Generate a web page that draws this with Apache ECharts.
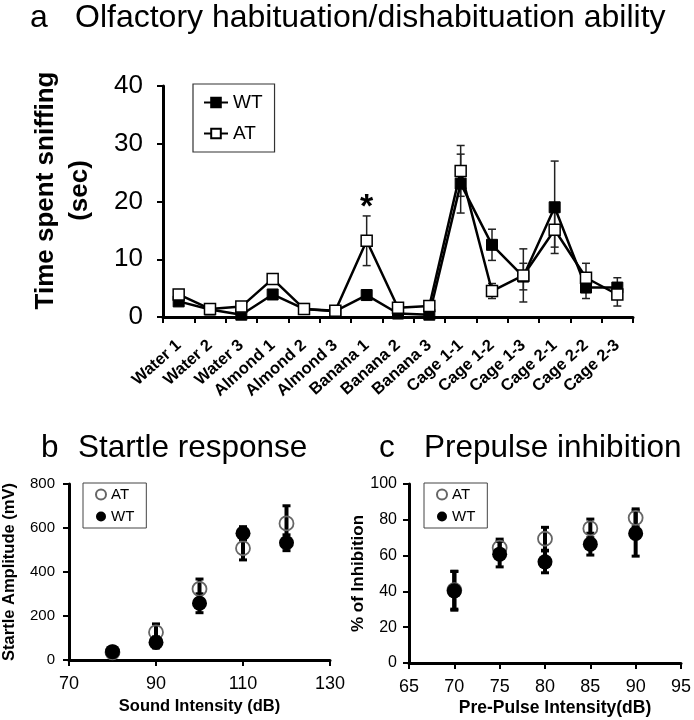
<!DOCTYPE html>
<html><head><meta charset="utf-8">
<script src="https://cdn.jsdelivr.net/npm/echarts@6/dist/echarts.min.js"></script>
<style>html,body{margin:0;padding:0;background:#fff}#c{width:694px;height:720px}</style>
</head><body><div id="c"></div>
<script>
// ---- Panel a data ----
const categories = ['Water 1','Water 2','Water 3','Almond 1','Almond 2','Almond 3','Banana 1','Banana 2','Banana 3','Cage 1-1','Cage 1-2','Cage 1-3','Cage 2-1','Cage 2-2','Cage 2-3'];
const sniffTicks = [0, 10, 20, 30, 40];
const wtSniff    = [2.7, 1.3, 0.4, 3.9, 1.4, 1.0, 3.8, 0.6, 0.4, 23.1, 12.5, 7.0, 19.0, 5.1, 5.1];
const wtSniffErr = [0.5, 0.3, 0.2, 0.6, 0.3, 0.2, 0.9, 0.3, 0.2, 5.1, 2.7, 2.3, 8.0, 1.9, 1.7];
const atSniff    = [3.9, 1.4, 1.8, 6.6, 1.4, 1.1, 13.2, 1.6, 1.9, 25.3, 4.5, 7.2, 15.1, 6.8, 3.9];
const atSniffErr = [0.5, 0.4, 0.4, 0.6, 0.3, 0.3, 4.3, 0.4, 0.4, 4.4, 1.3, 4.6, 3.0, 2.5, 2.0];
const sigMarks = [['Banana 1', 18.9]];

// ---- Panel b data ----
const soundIntensity = [80, 90, 100, 110, 120];
const atStartle    = [35, 126, 323, 508, 621];
const atStartleErr = [10, 38, 45, 53, 80];
const wtStartle    = [38, 80, 258, 576, 533];
const wtStartleErr = [12, 25, 43, 30, 36];

// ---- Panel c data ----
const prepulseIntensity = [70, 75, 80, 85, 90];
const atPPI    = [40.7, 64.4, 69.4, 75.2, 81.1];
const atPPIErr = [10.6, 4.8, 6.4, 5.2, 5.0];
const wtPPI    = [40.3, 60.8, 56.5, 66.4, 72.4];
const wtPPIErr = [10.8, 7.1, 6.1, 6.1, 12.7];

const FONT = 'Liberation Sans, Arial, sans-serif';

function errRender(lineW, capW, capLW, color) {
  return function (params, api) {
    const x = api.value(0), y = api.value(1), e = api.value(2);
    const top = api.coord([x, y + e]);
    const bot = api.coord([x, y - e]);
    const hw = capW / 2;
    const st = {stroke: color, lineWidth: lineW};
    const cs = {stroke: color, lineWidth: capLW};
    return {type: 'group', children: [
      {type: 'line', shape: {x1: top[0], y1: top[1], x2: bot[0], y2: bot[1]}, style: st},
      {type: 'line', shape: {x1: top[0] - hw, y1: top[1], x2: top[0] + hw, y2: top[1]}, style: cs},
      {type: 'line', shape: {x1: bot[0] - hw, y1: bot[1], x2: bot[0] + hw, y2: bot[1]}, style: cs}
    ]};
  };
}
const zip3 = (xs, ys, es) => xs.map((x, i) => [x, ys[i], es[i]]);
const zip2 = (xs, ys) => xs.map((x, i) => [x, ys[i]]);

const axisLineStyle = {lineStyle: {color: '#000', width: 3}};
const tickStyle = {show: true, inside: false, length: 6, lineStyle: {color: '#000', width: 2}};
const titleStyleA = {fontSize: 32, fontWeight: 'normal', color: '#000', fontFamily: FONT};
const titleStyle = {fontSize: 31.5, fontWeight: 'normal', color: '#000', fontFamily: FONT};

const option = {
  animation: false,
  textStyle: {fontFamily: FONT, color: '#000'},
  title: [
    {text: 'a', left: 30, top: 2, padding: 0, textStyle: titleStyleA},
    {text: 'Olfactory habituation/dishabituation ability', left: 75, top: 2, padding: 0, textStyle: titleStyleA},
    {text: 'b', left: 41, top: 432, padding: 0, textStyle: titleStyle},
    {text: 'Startle response', left: 78, top: 432, padding: 0, textStyle: titleStyle},
    {text: 'c', left: 379, top: 432, padding: 0, textStyle: titleStyle},
    {text: 'Prepulse inhibition', left: 424, top: 432, padding: 0, textStyle: titleStyle}
  ],
  legend: [
    {left: 193, top: 84, orient: 'vertical', data: ['WT', 'AT'], selectedMode: false,
     itemWidth: 24, itemHeight: 12, itemGap: 12, padding: [9, 12, 9, 10],
     borderColor: '#333', borderWidth: 1.2, textStyle: {fontSize: 19, color: '#000', fontFamily: FONT}},
    {left: 83, top: 483, orient: 'vertical', data: ['AT_b', 'WT_b'], selectedMode: false,
     formatter: n => n.split('_')[0], itemWidth: 10, itemHeight: 10, itemGap: 7, padding: [4, 12, 4, 12],
     borderColor: '#444', borderWidth: 1, textStyle: {fontSize: 15, color: '#000', fontFamily: FONT}},
    {left: 424, top: 483, orient: 'vertical', data: ['AT_c', 'WT_c'], selectedMode: false,
     formatter: n => n.split('_')[0], itemWidth: 10, itemHeight: 10, itemGap: 7, padding: [4, 12, 4, 12],
     borderColor: '#444', borderWidth: 1, textStyle: {fontSize: 15, color: '#000', fontFamily: FONT}}
  ],
  grid: [
    {left: 163, top: 86, width: 470, height: 231},
    {left: 68, top: 484, width: 262, height: 176},
    {left: 409, top: 484, width: 275, height: 179}
  ],
  xAxis: [
    {gridIndex: 0, type: 'category', data: categories, boundaryGap: true,
     axisLine: axisLineStyle, axisTick: Object.assign({}, tickStyle, {alignWithLabel: false}),
     axisLabel: {rotate: 42, interval: 0, margin: 26, fontSize: 16.5, fontWeight: 'bold', color: '#000', fontFamily: FONT},
     splitLine: {show: false}},
    {gridIndex: 1, type: 'value', min: 70, max: 130, interval: 20,
     axisLine: axisLineStyle, axisTick: tickStyle,
     axisLabel: {margin: 15, fontSize: 18, color: '#000', fontFamily: FONT}, splitLine: {show: false},
     name: 'Sound Intensity (dB)', nameLocation: 'middle', nameGap: 38,
     nameTextStyle: {fontSize: 16.5, fontWeight: 'bold', color: '#000', fontFamily: FONT}},
    {gridIndex: 2, type: 'value', min: 65, max: 95, interval: 5,
     axisLine: axisLineStyle, axisTick: tickStyle,
     axisLabel: {margin: 15, fontSize: 18, color: '#000', fontFamily: FONT}, splitLine: {show: false},
     name: 'Pre-Pulse Intensity(dB)', nameLocation: 'middle', nameGap: 36,
     nameTextStyle: {fontSize: 17.5, fontWeight: 'bold', color: '#000', fontFamily: FONT, padding: [0, 0, 0, 20]}}
  ],
  yAxis: [
    {gridIndex: 0, type: 'value', min: sniffTicks[0], max: sniffTicks[sniffTicks.length - 1], interval: 10,
     axisLine: {show: true, lineStyle: {color: '#000', width: 3}}, axisTick: tickStyle,
     axisLabel: {margin: 20, fontSize: 26, color: '#000', fontFamily: FONT}, splitLine: {show: false},
     name: 'Time spent sniffing\n(sec)', nameLocation: 'middle', nameRotate: 90, nameGap: 66,
     nameTextStyle: {fontSize: 26, fontWeight: 'bold', lineHeight: 34, align: 'center', color: '#000', fontFamily: FONT, padding: [0, 0, 0, 22]}},
    {gridIndex: 1, type: 'value', min: 0, max: 800, interval: 200,
     axisLine: {show: true, lineStyle: {color: '#000', width: 3}}, axisTick: tickStyle,
     axisLabel: {margin: 14, fontSize: 15, color: '#000', fontFamily: FONT}, splitLine: {show: false},
     name: 'Startle Amplitude (mV)', nameLocation: 'middle', nameRotate: 90, nameGap: 51,
     nameTextStyle: {fontSize: 16.5, fontWeight: 'bold', color: '#000', fontFamily: FONT}},
    {gridIndex: 2, type: 'value', min: 0, max: 100, interval: 20,
     axisLine: {show: true, lineStyle: {color: '#000', width: 3}}, axisTick: tickStyle,
     axisLabel: {margin: 12, fontSize: 16, color: '#000', fontFamily: FONT}, splitLine: {show: false},
     name: '% of Inhibition', nameLocation: 'middle', nameRotate: 90, nameGap: 40,
     nameTextStyle: {fontSize: 17, fontWeight: 'bold', color: '#000', fontFamily: FONT}}
  ],
  series: [
    // panel a error bars
    {type: 'custom', xAxisIndex: 0, yAxisIndex: 0, z: 1, renderItem: errRender(1.5, 8, 1.5, '#222'),
     encode: {x: 0, y: 1}, data: zip3(categories.map((c, i) => i), wtSniff, wtSniffErr), silent: true},
    {type: 'custom', xAxisIndex: 0, yAxisIndex: 0, z: 1, renderItem: errRender(1.5, 8, 1.5, '#222'),
     encode: {x: 0, y: 1}, data: zip3(categories.map((c, i) => i), atSniff, atSniffErr), silent: true},
    {name: 'WT', type: 'line', xAxisIndex: 0, yAxisIndex: 0, z: 3, data: wtSniff,
     symbol: 'rect', symbolSize: 11, lineStyle: {color: '#000', width: 2.5},
     itemStyle: {color: '#000', borderColor: '#000', borderWidth: 1}},
    {name: 'AT', type: 'line', xAxisIndex: 0, yAxisIndex: 0, z: 4, data: atSniff,
     symbol: 'rect', symbolSize: 11, lineStyle: {color: '#000', width: 2.5},
     itemStyle: {color: '#fff', borderColor: '#000', borderWidth: 1.5}},
    {type: 'scatter', xAxisIndex: 0, yAxisIndex: 0, z: 5, data: sigMarks, symbolSize: 1,
     itemStyle: {color: 'rgba(0,0,0,0)', opacity: 1}, silent: true,
     label: {show: true, position: 'inside', formatter: '*', fontSize: 34, fontWeight: 'bold', color: '#000',
             opacity: 1, textBorderWidth: 0, fontFamily: FONT}},
    // panel b
    {type: 'custom', xAxisIndex: 1, yAxisIndex: 1, z: 1, renderItem: errRender(4, 8, 3, '#000'),
     encode: {x: 0, y: 1}, data: zip3(soundIntensity, atStartle, atStartleErr), silent: true},
    {type: 'custom', xAxisIndex: 1, yAxisIndex: 1, z: 1, renderItem: errRender(4, 8, 3, '#000'),
     encode: {x: 0, y: 1}, data: zip3(soundIntensity, wtStartle, wtStartleErr), silent: true},
    {name: 'AT_b', type: 'scatter', xAxisIndex: 1, yAxisIndex: 1, z: 3, data: zip2(soundIntensity, atStartle),
     symbol: 'circle', symbolSize: 14, itemStyle: {color: 'rgba(255,255,255,0)', borderColor: '#666', borderWidth: 1.8, opacity: 1}},
    {name: 'WT_b', type: 'scatter', xAxisIndex: 1, yAxisIndex: 1, z: 4, data: zip2(soundIntensity, wtStartle),
     symbol: 'circle', symbolSize: 15, itemStyle: {color: '#000', opacity: 1}},
    // panel c
    {type: 'custom', xAxisIndex: 2, yAxisIndex: 2, z: 1, renderItem: errRender(4, 8, 3, '#000'),
     encode: {x: 0, y: 1}, data: zip3(prepulseIntensity, atPPI, atPPIErr), silent: true},
    {type: 'custom', xAxisIndex: 2, yAxisIndex: 2, z: 1, renderItem: errRender(4, 8, 3, '#000'),
     encode: {x: 0, y: 1}, data: zip3(prepulseIntensity, wtPPI, wtPPIErr), silent: true},
    {name: 'AT_c', type: 'scatter', xAxisIndex: 2, yAxisIndex: 2, z: 3, data: zip2(prepulseIntensity, atPPI),
     symbol: 'circle', symbolSize: 14, itemStyle: {color: 'rgba(255,255,255,0)', borderColor: '#666', borderWidth: 1.8, opacity: 1}},
    {name: 'WT_c', type: 'scatter', xAxisIndex: 2, yAxisIndex: 2, z: 4, data: zip2(prepulseIntensity, wtPPI),
     symbol: 'circle', symbolSize: 15, itemStyle: {color: '#000', opacity: 1}}
  ]
};
const chart = echarts.init(document.getElementById('c'), null, {renderer: 'canvas'});
chart.setOption(option);
</script>
</body></html>
